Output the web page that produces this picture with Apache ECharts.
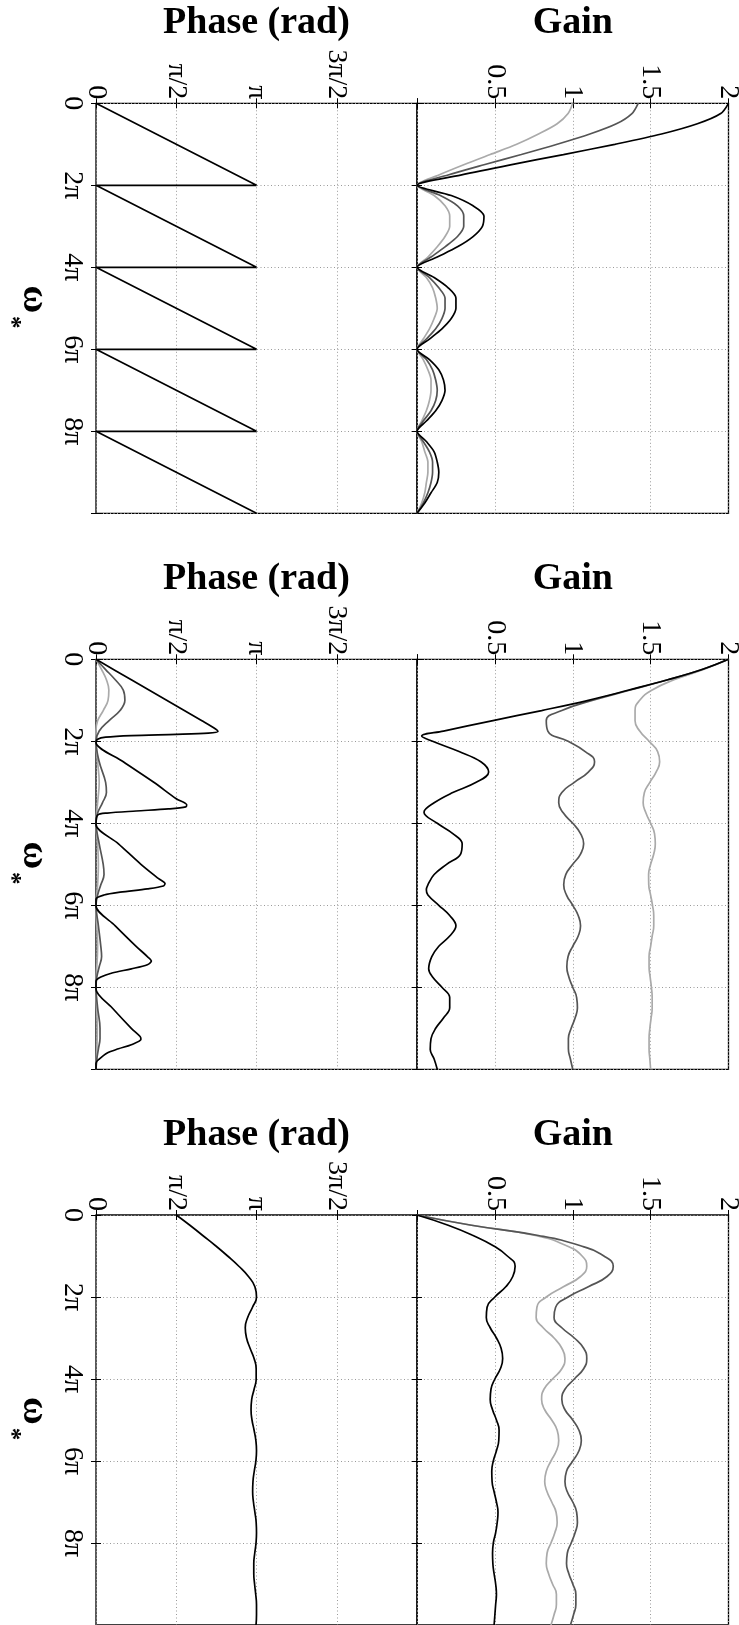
<!DOCTYPE html>
<html>
<head>
<meta charset="utf-8">
<script src="https://cdn.jsdelivr.net/npm/echarts@6/dist/echarts.min.js"></script>
<style>html,body{margin:0;padding:0;background:#fff}#c{width:739px;height:1625px}</style>
</head>
<body>
<div id="c"></div>
<script>
// ---------- data (ω and phase in units of π) ----------
const omega = [0,0.25,0.5,0.75,1,1.25,1.5,1.75,2,2.25,2.5,2.75,3,3.25,3.5,3.75,4,4.25,4.5,4.75,5,5.25,5.5,5.75,6,6.25,6.5,6.75,7,7.25,7.5,7.75,8,8.25,8.5,8.75,9,9.25,9.5,9.75,10];

// Figure 1
const f1GainBlack = [2.00,1.95,1.80,1.57,1.27,0.94,0.60,0.28,0,0.22,0.36,0.43,0.42,0.36,0.26,0.13,0,0.11,0.20,0.25,0.25,0.22,0.16,0.08,0,0.08,0.14,0.17,0.18,0.16,0.12,0.06,0,0.06,0.11,0.13,0.14,0.13,0.09,0.05,0];
const f1GainDark  = [1.42,1.38,1.28,1.11,0.90,0.67,0.43,0.20,0,0.15,0.26,0.30,0.30,0.26,0.18,0.09,0,0.08,0.14,0.18,0.18,0.16,0.12,0.06,0,0.06,0.10,0.12,0.13,0.12,0.09,0.04,0,0.04,0.08,0.10,0.10,0.09,0.07,0.04,0];
const f1GainLight = [1.00,0.97,0.90,0.78,0.64,0.47,0.30,0.14,0,0.11,0.18,0.21,0.21,0.18,0.13,0.07,0,0.06,0.10,0.12,0.13,0.11,0.08,0.04,0,0.04,0.07,0.09,0.09,0.08,0.06,0.03,0,0.03,0.05,0.07,0.07,0.06,0.05,0.03,0];
const f1PhaseOmega = [0,2,2,4,4,6,6,8,8,10];
const f1Phase      = [0,1,0,1,0,1,0,1,0,1];

// Figure 2
const f2GainBlackOmega = [0,0.25,0.5,0.75,1,1.25,1.5,1.75,1.87,2,2.25,2.5,2.75,3,3.25,3.5,3.73,4,4.25,4.5,4.75,5,5.25,5.5,5.62,5.75,6,6.25,6.5,6.75,7,7.25,7.55,7.75,8,8.25,8.5,8.75,9,9.25,9.52,9.75,10];
const f2GainBlack      = [2.0,1.83,1.61,1.36,1.10,0.80,0.48,0.17,0.03,0.10,0.27,0.41,0.46,0.38,0.23,0.11,0.045,0.13,0.23,0.29,0.28,0.19,0.11,0.07,0.06,0.07,0.14,0.21,0.25,0.21,0.14,0.095,0.075,0.10,0.16,0.21,0.21,0.17,0.12,0.09,0.085,0.11,0.13];
const f2GainDark  = [2.0,1.83,1.61,1.37,1.13,0.93,0.83,0.84,0.97,1.08,1.14,1.10,1.01,0.93,0.91,0.94,1.0,1.05,1.07,1.05,1.0,0.955,0.942,0.96,1.0,1.035,1.05,1.035,1.0,0.97,0.962,0.975,1.0,1.025,1.03,1.015,0.99,0.972,0.972,0.985,1.0];
const f2GainLight = [2.0,1.84,1.65,1.51,1.43,1.40,1.40,1.43,1.49,1.545,1.558,1.535,1.495,1.46,1.452,1.47,1.50,1.525,1.53,1.52,1.50,1.487,1.488,1.50,1.512,1.52,1.52,1.51,1.50,1.49,1.49,1.497,1.505,1.51,1.51,1.503,1.495,1.49,1.49,1.495,1.50];
const f2PhaseBlackOmega = [0,0.5,1,1.5,1.7,1.76,1.8,1.83,1.86,1.9,1.95,2.03,2.5,3,3.4,3.55,3.6,3.65,3.7,3.75,3.8,4.03,4.5,5,5.35,5.47,5.53,5.6,5.68,5.75,5.85,6.02,6.5,7,7.25,7.36,7.45,7.55,7.65,7.75,7.85,8.05,8.5,9,9.2,9.27,9.4,9.5,9.6,9.75,9.85,10];
const f2PhaseBlack      = [0,0.22,0.44,0.66,0.745,0.76,0.70,0.50,0.22,0.06,0.01,0,0.17,0.36,0.50,0.565,0.56,0.45,0.25,0.07,0.01,0,0.14,0.28,0.39,0.43,0.42,0.32,0.15,0.05,0,0,0.12,0.25,0.32,0.345,0.32,0.22,0.10,0.03,0,0,0.10,0.22,0.275,0.28,0.22,0.14,0.07,0.02,0,0];
const f2PhaseDarkOmega = [0,0.25,0.5,0.75,1,1.25,1.5,1.75,2,2.5,3,3.25,3.5,3.75,4,4.5,5,5.25,5.5,5.75,6,6.5,7,7.25,7.5,7.75,8,8.5,9,9.25,9.5,9.75,10];
const f2PhaseDark      = [0,0.06,0.12,0.17,0.18,0.15,0.08,0.02,0,0.02,0.06,0.065,0.04,0.01,0,0.02,0.045,0.05,0.03,0.01,0,0.015,0.03,0.035,0.02,0.005,0,0.01,0.025,0.025,0.015,0.005,0];
const f2PhaseLightOmega = [0,0.25,0.5,0.75,1,1.25,1.5,1.75,2,2.5,3,3.5,4,4.5,5,5.5,6,7,8,9,10];
const f2PhaseLight      = [0,0.035,0.065,0.08,0.075,0.045,0.01,0,0,0.01,0.02,0.01,0,0.01,0.015,0.01,0,0.01,0,0.008,0];

// Figure 3
const f3GainBlack = [0,0.20,0.36,0.49,0.58,0.63,0.615,0.57,0.50,0.45,0.445,0.47,0.51,0.54,0.55,0.535,0.50,0.475,0.47,0.485,0.51,0.527,0.525,0.51,0.49,0.48,0.482,0.495,0.51,0.52,0.515,0.505,0.49,0.485,0.487,0.495,0.505,0.51,0.505,0.50,0.495];
const f3GainDark  = [0,0.35,0.78,1.05,1.20,1.26,1.22,1.10,0.97,0.89,0.88,0.93,1.01,1.07,1.09,1.07,1.01,0.95,0.93,0.95,1.0,1.04,1.055,1.04,1.0,0.96,0.95,0.965,1.0,1.025,1.03,1.015,0.99,0.965,0.96,0.975,1.0,1.02,1.02,1.005,0.985];
const f3GainLight = [0,0.35,0.76,0.96,1.06,1.09,1.05,0.94,0.83,0.77,0.765,0.81,0.88,0.93,0.95,0.93,0.87,0.815,0.80,0.82,0.865,0.90,0.91,0.895,0.86,0.83,0.82,0.835,0.865,0.893,0.90,0.885,0.86,0.835,0.83,0.845,0.87,0.895,0.895,0.88,0.86];
const f3Phase     = [0.5,0.585,0.665,0.745,0.82,0.89,0.95,0.99,1.0,0.975,0.945,0.93,0.938,0.96,0.985,0.998,0.998,0.985,0.97,0.966,0.972,0.985,0.996,1.0,0.996,0.986,0.978,0.976,0.981,0.99,0.998,1.0,0.997,0.989,0.983,0.983,0.988,0.995,1.0,1.0,0.997];

// Tick labels
const gainTickValues   = [0,0.5,1,1.5,2];
const gainTickLabels   = ['','0.5','1','1.5','2'];
const phaseTickValues  = [0,0.5,1,1.5,2];
const phaseTickLabels  = ['0','π/2','π','3π/2',''];
const omegaTickValues  = [0,2,4,6,8,10];
const omegaTickLabels  = ['0','2π','4π','6π','8π',''];
const omegaName = 'ω';
const omegaSub = '*';

// ---------- layout ----------
const FIG_TOPS = [103.3, 659.3, 1215];
const FIG_H = 410;
const PANELS = [{kind:'phase', left:96, width:321}, {kind:'gain', left:417, width:311.5}];
const COLORS = {black:'#000000', dark:'#555555', light:'#aaaaaa'};
const FONT = "'Liberation Serif', 'DejaVu Serif', serif";

function lab(values, labels) {
  return v => { const i = values.findIndex(t => Math.abs(t - v) < 1e-9); return i >= 0 ? labels[i] : ''; };
}
function pairs(om, vals) { return vals.map((v, i) => [v, om[i]]); }

const grids = [], xAxes = [], yAxes = [], xAxes2 = [], yAxes2 = [], graphics = [];
FIG_TOPS.forEach((top, k) => {
  const mid = top + FIG_H / 2;
  graphics.push({type:'text', x:34, y:mid - 9, rotation:-Math.PI / 2, silent:true,
    style:{text:omegaName, fontSize:38, fontWeight:'bold', fontFamily:FONT, fill:'#000', align:'center', verticalAlign:'middle'}});
  graphics.push({type:'text', x:10, y:mid + 14, rotation:-Math.PI / 2, silent:true,
    style:{text:omegaSub, fontSize:25, fontWeight:'bold', fontFamily:FONT, fill:'#000', align:'center', verticalAlign:'middle'}});
  PANELS.forEach((p, j) => {
    const g = k * 2 + j;
    const isPhase = p.kind === 'phase';
    grids.push({left:p.left, top:top, width:p.width, height:FIG_H, show:true, borderColor:'#000', borderWidth:1.3,
      backgroundColor:'transparent', containLabel:false, outerBoundsMode:'none'});
    const tick = {show:true, inside:true, length:5, lineStyle:{color:'#000', width:1}};
    const split = {show:true, lineStyle:{color:'#9a9a9a', width:1, type:[1,2.5]}};
    xAxes.push({
      gridIndex:g, type:'value', position:'top', min:0, max:2, interval:0.5,
      axisLine:{show:false}, axisTick:tick, splitLine:split,
      axisLabel:{show:true, rotate:-90, margin:4, fontSize:28, fontFamily:FONT, color:'#000',
        showMinLabel:true, showMaxLabel:true,
        formatter: isPhase ? lab(phaseTickValues, phaseTickLabels) : lab(gainTickValues, gainTickLabels)},
      name: isPhase ? 'Phase (rad)' : 'Gain', nameLocation:'middle', nameGap:61,
      nameTextStyle:{fontSize:38, fontWeight:'bold', fontFamily:FONT, color:'#000'}
    });
    xAxes2.push({gridIndex:g, type:'value', position:'bottom', min:0, max:2, interval:0.5,
      axisLine:{show:false}, axisTick:tick, axisLabel:{show:false}, splitLine:{show:false}});
    yAxes.push({
      gridIndex:g, type:'value', position:'left', inverse:true, min:0, max:10, interval:2,
      axisLine:{show:false}, axisTick:tick, splitLine:split,
      axisLabel: isPhase ? {show:true, rotate:-90, margin:10, fontSize:28, fontFamily:FONT, color:'#000',
        showMinLabel:true, showMaxLabel:true, formatter: lab(omegaTickValues, omegaTickLabels)} : {show:false}
    });
    yAxes2.push({gridIndex:g, type:'value', position:'right', inverse:true, min:0, max:10, interval:2,
      axisLine:{show:false}, axisTick:tick, axisLabel:{show:false}, splitLine:{show:false}});
  });
});

function line(g, data, color, smooth) {
  return {type:'line', xAxisIndex:g, yAxisIndex:g, data:data, symbol:'none', showSymbol:false,
    smooth: smooth, silent:true, clip:true, animation:false,
    lineStyle:{color:color, width:1.7}};
}

const series = [
  // Figure 1
  line(0, pairs(f1PhaseOmega, f1Phase), COLORS.black, false),
  line(1, pairs(omega, f1GainLight), COLORS.light, 0.3),
  line(1, pairs(omega, f1GainDark), COLORS.dark, 0.3),
  line(1, pairs(omega, f1GainBlack), COLORS.black, 0.3),
  // Figure 2
  line(2, pairs(f2PhaseLightOmega, f2PhaseLight), COLORS.light, 0.4),
  line(2, pairs(f2PhaseDarkOmega, f2PhaseDark), COLORS.dark, 0.4),
  line(2, pairs(f2PhaseBlackOmega, f2PhaseBlack), COLORS.black, 0.3),
  line(3, pairs(omega, f2GainLight), COLORS.light, 0.5),
  line(3, pairs(omega, f2GainDark), COLORS.dark, 0.5),
  line(3, pairs(f2GainBlackOmega, f2GainBlack), COLORS.black, 0.4),
  // Figure 3
  line(4, pairs(omega, f3Phase), COLORS.black, 0.5),
  line(5, pairs(omega, f3GainLight), COLORS.light, 0.5),
  line(5, pairs(omega, f3GainDark), COLORS.dark, 0.5),
  line(5, pairs(omega, f3GainBlack), COLORS.black, 0.5)
];

const chart = echarts.init(document.getElementById('c'), null, {renderer:'canvas'});
chart.setOption({
  animation:false,
  backgroundColor:'#ffffff',
  grid: grids,
  xAxis: xAxes.concat(xAxes2),
  yAxis: yAxes.concat(yAxes2),
  graphic: graphics,
  series: series
});
</script>
</body>
</html>
